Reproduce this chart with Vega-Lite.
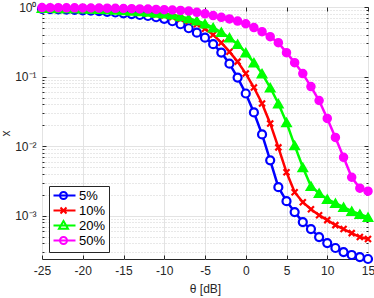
{
  "$schema": "https://vega.github.io/schema/vega-lite/v6.json",
  "width": 326,
  "height": 252,
  "autosize": {"type": "none"},
  "padding": {"left": 42, "top": 7, "right": 6, "bottom": 39},
  "config": {
    "font": "Liberation Sans",
    "view": {"stroke": "#262626", "strokeWidth": 1},
    "axis": {
      "labelFont": "Liberation Sans",
      "titleFont": "Liberation Sans",
      "labelFontSize": 12,
      "titleFontSize": 12,
      "titleFontWeight": "normal",
      "labelColor": "#262626",
      "titleColor": "#262626",
      "tickColor": "#262626",
      "domain": false
    },
    "legend": {
      "orient": "bottom-left",
      "offset": 7,
      "padding": 3,
      "strokeColor": "#262626",
      "fillColor": "white",
      "cornerRadius": 0,
      "symbolSize": 100,
      "symbolStrokeWidth": 2,
      "labelFont": "Liberation Sans",
      "labelFontSize": 13,
      "labelColor": "#000000",
      "labelOffset": 14,
      "rowPadding": -1
    }
  },
  "data": {
    "values": [
      {"t": -25, "5%": 0.936, "10%": 0.9517, "20%": 0.9644, "50%": 0.9804},
      {"t": -24, "5%": 0.930, "10%": 0.9486, "20%": 0.9612, "50%": 0.9788},
      {"t": -23, "5%": 0.924, "10%": 0.9455, "20%": 0.9580, "50%": 0.9772},
      {"t": -22, "5%": 0.918, "10%": 0.9392, "20%": 0.9549, "50%": 0.9740},
      {"t": -21, "5%": 0.909, "10%": 0.9331, "20%": 0.9517, "50%": 0.9724},
      {"t": -20, "5%": 0.897, "10%": 0.9270, "20%": 0.9455, "50%": 0.9707},
      {"t": -19, "5%": 0.885, "10%": 0.9179, "20%": 0.9392, "50%": 0.9675},
      {"t": -18, "5%": 0.871, "10%": 0.9088, "20%": 0.9300, "50%": 0.9644},
      {"t": -17, "5%": 0.853, "10%": 0.8971, "20%": 0.9209, "50%": 0.9612},
      {"t": -16, "5%": 0.834, "10%": 0.8823, "20%": 0.9088, "50%": 0.9565},
      {"t": -15, "5%": 0.812, "10%": 0.8676, "20%": 0.8971, "50%": 0.9517},
      {"t": -14, "5%": 0.791, "10%": 0.8507, "20%": 0.8823, "50%": 0.9455},
      {"t": -13, "5%": 0.768, "10%": 0.8313, "20%": 0.8648, "50%": 0.9392},
      {"t": -12, "5%": 0.743, "10%": 0.8097, "20%": 0.8479, "50%": 0.9331},
      {"t": -11, "5%": 0.712, "10%": 0.7834, "20%": 0.8256, "50%": 0.9239},
      {"t": -10, "5%": 0.677, "10%": 0.7530, "20%": 0.8044, "50%": 0.9148},
      {"t": -9, "5%": 0.624, "10%": 0.7166, "20%": 0.7783, "50%": 0.9057},
      {"t": -8, "5%": 0.565, "10%": 0.677, "20%": 0.7334, "50%": 0.8938},
      {"t": -7, "5%": 0.495, "10%": 0.628, "20%": 0.6865, "50%": 0.8736},
      {"t": -6, "5%": 0.427, "10%": 0.565, "20%": 0.6344, "50%": 0.8396},
      {"t": -5, "5%": 0.362, "10%": 0.487, "20%": 0.5745, "50%": 0.7991},
      {"t": -4, "5%": 0.292, "10%": 0.3997, "20%": 0.5068, "50%": 0.7530},
      {"t": -3, "5%": 0.221, "10%": 0.3070, "20%": 0.4341, "50%": 0.7119},
      {"t": -2, "5%": 0.1535, "10%": 0.2281, "20%": 0.3620, "50%": 0.6731},
      {"t": -1, "5%": 0.0968, "10%": 0.1640, "20%": 0.2921, "50%": 0.6281},
      {"t": 0, "5%": 0.0571, "10%": 0.1104, "20%": 0.2207, "50%": 0.5745},
      {"t": 1, "5%": 0.0305, "10%": 0.0696, "20%": 0.1587, "50%": 0.5068},
      {"t": 2, "5%": 0.01476, "10%": 0.0410, "20%": 0.1104, "50%": 0.4413},
      {"t": 3, "5%": 0.00626, "10%": 0.02121, "20%": 0.0696, "50%": 0.3742},
      {"t": 4, "5%": 0.00257, "10%": 0.00961, "20%": 0.0410, "50%": 0.3070},
      {"t": 5, "5%": 0.00162, "10%": 0.004215, "20%": 0.02193, "50%": 0.2207},
      {"t": 6, "5%": 0.00113, "10%": 0.002179, "20%": 0.01027, "50%": 0.1587},
      {"t": 7, "5%": 0.00081, "10%": 0.001566, "20%": 0.00497, "50%": 0.1104},
      {"t": 8, "5%": 0.000643, "10%": 0.001243, "20%": 0.002657, "50%": 0.0719},
      {"t": 9, "5%": 0.000494, "10%": 0.001019, "20%": 0.002108, "50%": 0.0453},
      {"t": 10, "5%": 0.000405, "10%": 0.000865, "20%": 0.001729, "50%": 0.02502},
      {"t": 11, "5%": 0.000344, "10%": 0.000733, "20%": 0.001515, "50%": 0.01337},
      {"t": 12, "5%": 0.000301, "10%": 0.000643, "20%": 0.001328, "50%": 0.00691},
      {"t": 13, "5%": 0.000273, "10%": 0.000563, "20%": 0.001163, "50%": 0.003574},
      {"t": 14, "5%": 0.000255, "10%": 0.000494, "20%": 0.001053, "50%": 0.002487},
      {"t": 15, "5%": 0.000239, "10%": 0.000462, "20%": 0.000954, "50%": 0.002252}
    ]
  },
  "transform": [{"fold": ["5%", "10%", "20%", "50%"], "as": ["series", "x"]}],
  "layer": [
    {
      "transform": [{"filter": "datum.series == '5%'"}],
      "mark": {"type": "line", "strokeWidth": 2.5, "stroke": "#0000ff"},
      "encoding": {
        "x": {
          "field": "t", "type": "quantitative",
          "scale": {"domain": [-25, 15], "nice": false, "zero": false},
          "axis": {
            "orient": "bottom",
            "values": [-25, -20, -15, -10, -5, 0, 5, 10, 15],
            "labelExpr": "'' + datum.value",
            "labelFlush": false,
            "grid": true, "gridColor": "#e3e3e3",
            "tickSize": -4, "labelPadding": 10,
            "title": "θ [dB]", "titlePadding": 7
          }
        },
        "y": {
          "field": "x", "type": "quantitative",
          "scale": {"type": "log", "domain": [0.000239, 1], "nice": false},
          "axis": {
            "orient": "left",
            "values": [0.0003, 0.0004, 0.0005, 0.0006, 0.0007, 0.0008, 0.0009, 0.001, 0.002, 0.003, 0.004, 0.005, 0.006, 0.007, 0.008, 0.009, 0.01, 0.02, 0.03, 0.04, 0.05, 0.06, 0.07, 0.08, 0.09, 0.1, 0.2, 0.3, 0.4, 0.5, 0.6, 0.7, 0.8, 0.9, 1],
            "labelExpr": "datum.value == 1 ? '10⁰' : datum.value == 0.1 ? '10⁻¹' : datum.value == 0.01 ? '10⁻²' : datum.value == 0.001 ? '10⁻³' : ''",
            "grid": true,
            "gridColor": {"condition": {"test": "indexof([1, 0.1, 0.01, 0.001], datum.value) >= 0", "value": "#e3e3e3"}, "value": "#d0d0d0"},
            "gridDash": {"condition": {"test": "indexof([1, 0.1, 0.01, 0.001], datum.value) >= 0", "value": []}, "value": [1, 2]},
            "tickSize": {"condition": {"test": "indexof([1, 0.1, 0.01, 0.001], datum.value) >= 0", "value": -4}, "value": -2},
            "labelPadding": 10,
            "labelFlush": false,
            "title": "x", "titlePadding": 2
          }
        }
      }
    },
    {
      "transform": [{"filter": "datum.series == '10%'"}],
      "mark": {"type": "line", "strokeWidth": 2.5, "stroke": "#ff0000"},
      "encoding": {
        "x": {"field": "t", "type": "quantitative", "axis": null},
        "y": {"field": "x", "type": "quantitative", "axis": null}
      }
    },
    {
      "transform": [{"filter": "datum.series == '20%'"}],
      "mark": {"type": "line", "strokeWidth": 2.5, "stroke": "#00ff00"},
      "encoding": {
        "x": {"field": "t", "type": "quantitative", "axis": null},
        "y": {"field": "x", "type": "quantitative", "axis": null}
      }
    },
    {
      "transform": [{"filter": "datum.series == '50%'"}],
      "mark": {"type": "line", "strokeWidth": 2.5, "stroke": "#ff00ff"},
      "encoding": {
        "x": {"field": "t", "type": "quantitative", "axis": null},
        "y": {"field": "x", "type": "quantitative", "axis": null}
      }
    },
    {
      "transform": [{"filter": "datum.series == '5%'"}],
      "mark": {"type": "point", "shape": "circle", "size": 64, "filled": true, "fill": "white", "stroke": "#0000ff", "strokeWidth": 2.2, "opacity": 1},
      "encoding": {
        "x": {"field": "t", "type": "quantitative", "axis": null},
        "y": {"field": "x", "type": "quantitative", "axis": null}
      }
    },
    {
      "transform": [{"filter": "datum.series == '10%'"}],
      "mark": {"type": "point", "shape": "M-1,-1L1,1M-1,1L1,-1", "size": 36, "filled": false, "stroke": "#ff0000", "strokeWidth": 2.2, "opacity": 1},
      "encoding": {
        "x": {"field": "t", "type": "quantitative", "axis": null},
        "y": {"field": "x", "type": "quantitative", "axis": null}
      }
    },
    {
      "transform": [{"filter": "datum.series == '20%'"}],
      "mark": {"type": "point", "shape": "triangle-up", "size": 90, "filled": true, "fill": "#00ff00", "stroke": "#00ff00", "strokeWidth": 1.5, "opacity": 1},
      "encoding": {
        "x": {"field": "t", "type": "quantitative", "axis": null},
        "y": {"field": "x", "type": "quantitative", "axis": null}
      }
    },
    {
      "transform": [{"filter": "datum.series == '50%'"}],
      "mark": {"type": "point", "shape": "circle", "size": 64, "filled": true, "fill": "#ff00ff", "stroke": "#ff00ff", "strokeWidth": 1.5, "opacity": 1},
      "encoding": {
        "x": {"field": "t", "type": "quantitative", "axis": null},
        "y": {"field": "x", "type": "quantitative", "axis": null}
      }
    },
    {
      "mark": {"type": "point", "opacity": 0, "strokeWidth": 2},
      "encoding": {
        "x": {
          "field": "t", "type": "quantitative",
          "axis": {"orient": "top", "values": [-25, -20, -15, -10, -5, 0, 5, 10, 15], "labels": false, "grid": false, "tickSize": -4, "title": null}
        },
        "y": {
          "field": "x", "type": "quantitative",
          "axis": {
            "orient": "right",
            "values": [0.0003, 0.0004, 0.0005, 0.0006, 0.0007, 0.0008, 0.0009, 0.001, 0.002, 0.003, 0.004, 0.005, 0.006, 0.007, 0.008, 0.009, 0.01, 0.02, 0.03, 0.04, 0.05, 0.06, 0.07, 0.08, 0.09, 0.1, 0.2, 0.3, 0.4, 0.5, 0.6, 0.7, 0.8, 0.9, 1],
            "labels": false, "grid": false,
            "tickSize": {"condition": {"test": "indexof([1, 0.1, 0.01, 0.001], datum.value) >= 0", "value": -4}, "value": -2},
            "title": null
          }
        },
        "shape": {
          "field": "series", "type": "nominal", "title": null,
          "scale": {"domain": ["5%", "10%", "20%", "50%"], "range": [
            "M-1,0L3.4,0M0.3,0A0.7,0.7 0 1,0 1.7,0A0.7,0.7 0 1,0 0.3,0",
            "M-1,0L3.4,0M0.4,-0.6L1.6,0.6M0.4,0.6L1.6,-0.6",
            "M-1,0L3.4,0M1,-0.9L1.9,0.65L0.1,0.65Z",
            "M-1,0L3.4,0M0.3,0A0.7,0.7 0 1,0 1.7,0A0.7,0.7 0 1,0 0.3,0"
          ]}
        },
        "stroke": {
          "field": "series", "type": "nominal", "title": null,
          "scale": {"domain": ["5%", "10%", "20%", "50%"], "range": ["#0000ff", "#ff0000", "#00ff00", "#ff00ff"]}
        },
        "fill": {
          "field": "series", "type": "nominal", "title": null,
          "scale": {"domain": ["5%", "10%", "20%", "50%"], "range": ["#ffffff", "transparent", "#00ff00", "#ff00ff"]}
        }
      }
    }
  ],
  "resolve": {"axis": {"x": "independent", "y": "independent"}}
}
